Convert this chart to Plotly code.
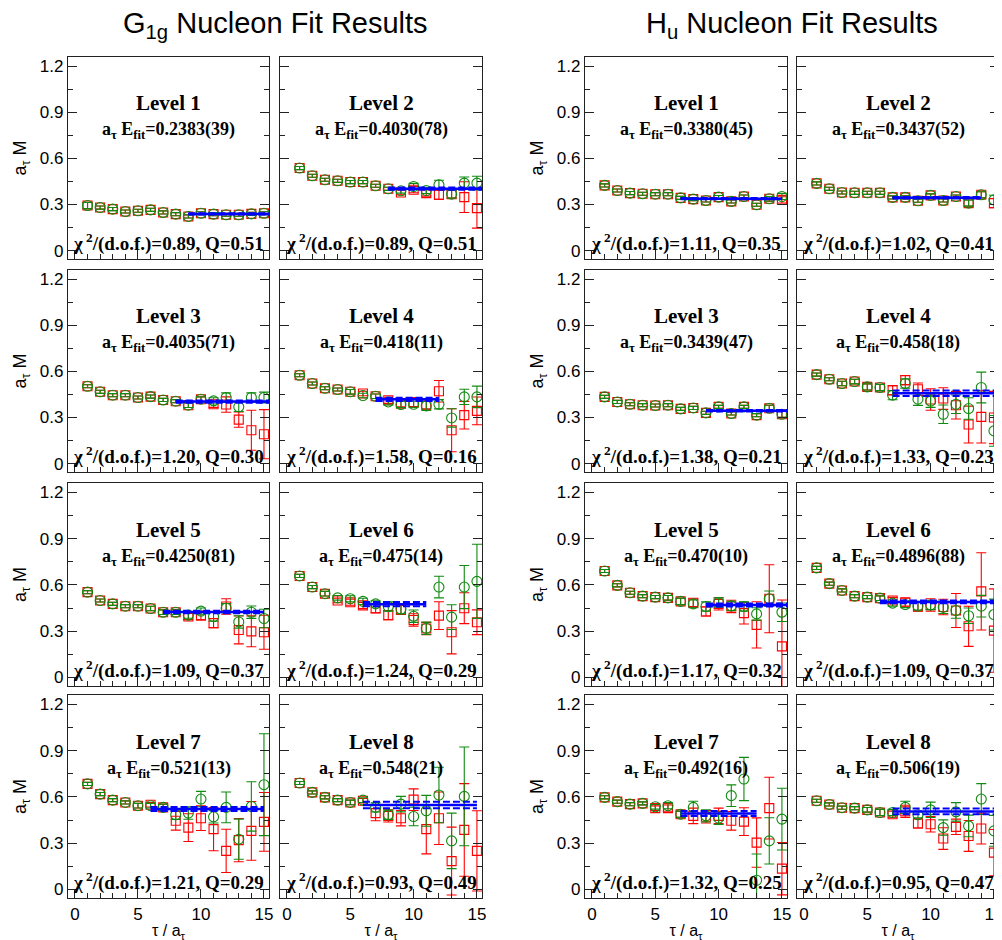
import plotly.graph_objects as go

# ---------------- data ----------------
tau = list(range(1, 16))

group_titles = ["G<sub>1g</sub> Nucleon Fit Results", "H<sub>u</sub> Nucleon Fit Results"]
level_names = [f"Level {i}" for i in range(1, 9)]

# ---- G1g ----
g1g_red_vals = [
    [0.293, 0.280, 0.270, 0.254, 0.259, 0.265, 0.248, 0.237, 0.222, 0.243, 0.237, 0.233, 0.233, 0.239, 0.243],
    [0.537, 0.487, 0.461, 0.454, 0.446, 0.446, 0.422, 0.402, 0.378, 0.396, 0.374, 0.363, 0.367, 0.348, 0.276],
    [0.503, 0.467, 0.445, 0.445, 0.430, 0.436, 0.414, 0.406, 0.380, 0.419, 0.386, 0.384, 0.286, 0.217, 0.191],
    [0.575, 0.521, 0.490, 0.482, 0.467, 0.456, 0.438, 0.412, 0.390, 0.400, 0.384, 0.471, 0.217, 0.315, 0.343],
    [0.553, 0.499, 0.477, 0.462, 0.462, 0.447, 0.423, 0.423, 0.395, 0.401, 0.352, 0.460, 0.308, 0.299, 0.293],
    [0.658, 0.586, 0.543, 0.499, 0.488, 0.467, 0.449, 0.404, 0.438, 0.373, 0.317, 0.401, 0.293, 0.449, 0.358],
    [0.684, 0.618, 0.579, 0.564, 0.543, 0.549, 0.532, 0.445, 0.401, 0.462, 0.391, 0.250, 0.320, 0.380, 0.438],
    [0.690, 0.629, 0.597, 0.579, 0.564, 0.575, 0.495, 0.477, 0.462, 0.582, 0.391, 0.462, 0.184, 0.386, 0.250],
]
g1g_red_errs = [
    [0.02, 0.01, 0.01, 0.01, 0.01, 0.01, 0.01, 0.01, 0.01, 0.01, 0.01, 0.01, 0.01, 0.01, 0.01],
    [0.01, 0.01, 0.01, 0.01, 0.01, 0.01, 0.01, 0.01, 0.015, 0.02, 0.02, 0.03, 0.025, 0.10, 0.13],
    [0.01, 0.01, 0.01, 0.01, 0.01, 0.01, 0.01, 0.01, 0.015, 0.015, 0.02, 0.05, 0.05, 0.13, 0.16],
    [0.01, 0.01, 0.01, 0.01, 0.015, 0.015, 0.015, 0.02, 0.02, 0.03, 0.03, 0.07, 0.14, 0.09, 0.09],
    [0.01, 0.01, 0.01, 0.01, 0.01, 0.015, 0.015, 0.015, 0.02, 0.025, 0.03, 0.05, 0.09, 0.10, 0.11],
    [0.01, 0.01, 0.015, 0.015, 0.02, 0.02, 0.03, 0.03, 0.03, 0.04, 0.04, 0.09, 0.14, 0.10, 0.08],
    [0.01, 0.01, 0.01, 0.01, 0.015, 0.015, 0.02, 0.06, 0.09, 0.08, 0.14, 0.14, 0.14, 0.19, 0.19],
    [0.01, 0.01, 0.01, 0.01, 0.015, 0.015, 0.05, 0.04, 0.05, 0.07, 0.16, 0.17, 0.22, 0.30, 0.26],
]
g1g_green_vals = [
    [0.293, 0.280, 0.270, 0.254, 0.259, 0.265, 0.248, 0.237, 0.222, 0.243, 0.237, 0.233, 0.233, 0.239, 0.243],
    [0.537, 0.487, 0.461, 0.454, 0.446, 0.446, 0.422, 0.402, 0.389, 0.417, 0.391, 0.428, 0.367, 0.439, 0.439],
    [0.503, 0.467, 0.445, 0.445, 0.430, 0.436, 0.414, 0.406, 0.380, 0.419, 0.408, 0.430, 0.369, 0.430, 0.430],
    [0.575, 0.521, 0.490, 0.482, 0.467, 0.443, 0.438, 0.401, 0.384, 0.386, 0.375, 0.386, 0.297, 0.434, 0.434],
    [0.553, 0.499, 0.477, 0.462, 0.462, 0.447, 0.423, 0.423, 0.404, 0.430, 0.395, 0.449, 0.360, 0.423, 0.382],
    [0.658, 0.586, 0.543, 0.516, 0.510, 0.493, 0.477, 0.460, 0.443, 0.397, 0.319, 0.586, 0.391, 0.586, 0.623],
    [0.684, 0.618, 0.579, 0.564, 0.543, 0.543, 0.532, 0.484, 0.495, 0.586, 0.471, 0.532, 0.326, 0.538, 0.679],
    [0.690, 0.629, 0.597, 0.579, 0.564, 0.579, 0.532, 0.484, 0.553, 0.473, 0.510, 0.612, 0.315, 0.603, None],
]
g1g_green_errs = [
    [0.02, 0.01, 0.01, 0.01, 0.01, 0.01, 0.01, 0.01, 0.01, 0.01, 0.01, 0.01, 0.01, 0.01, 0.01],
    [0.01, 0.01, 0.01, 0.01, 0.01, 0.01, 0.01, 0.01, 0.015, 0.02, 0.02, 0.03, 0.025, 0.04, 0.045],
    [0.01, 0.01, 0.01, 0.01, 0.01, 0.01, 0.01, 0.01, 0.015, 0.015, 0.02, 0.03, 0.03, 0.03, 0.035],
    [0.01, 0.01, 0.01, 0.01, 0.015, 0.015, 0.015, 0.02, 0.02, 0.02, 0.03, 0.03, 0.06, 0.05, 0.07],
    [0.01, 0.01, 0.01, 0.01, 0.01, 0.015, 0.015, 0.015, 0.02, 0.02, 0.03, 0.03, 0.04, 0.04, 0.06],
    [0.01, 0.01, 0.015, 0.015, 0.02, 0.02, 0.02, 0.03, 0.03, 0.04, 0.04, 0.07, 0.08, 0.14, 0.24],
    [0.01, 0.01, 0.01, 0.01, 0.015, 0.015, 0.02, 0.03, 0.04, 0.05, 0.04, 0.10, 0.13, 0.16, 0.33],
    [0.01, 0.01, 0.01, 0.01, 0.015, 0.015, 0.03, 0.03, 0.05, 0.06, 0.10, 0.18, 0.18, 0.32, 0.0],
]
g1g_fit_E = [0.2383, 0.4030, 0.4035, 0.418, 0.4250, 0.475, 0.521, 0.548]
g1g_fit_err = [0.0039, 0.0078, 0.0071, 0.011, 0.0081, 0.014, 0.013, 0.021]
g1g_fit_tmin = [9, 8, 8, 7, 7, 6, 6, 6]
g1g_fit_tmax = [16, 16, 16, 12, 15, 11, 15, 15]
g1g_efit_text = ["0.2383(39)", "0.4030(78)", "0.4035(71)", "0.418(11)", "0.4250(81)", "0.475(14)", "0.521(13)", "0.548(21)"]
g1g_chi2 = ["0.89", "0.89", "1.20", "1.58", "1.09", "1.24", "1.21", "0.93"]
g1g_Q = ["0.51", "0.51", "0.30", "0.16", "0.37", "0.29", "0.29", "0.49"]

# ---- Hu ----
hu_red_vals = [
    [0.424, 0.391, 0.374, 0.370, 0.367, 0.367, 0.343, 0.335, 0.326, 0.348, 0.320, 0.352, 0.298, 0.337, 0.330],
    [0.437, 0.402, 0.378, 0.376, 0.376, 0.376, 0.346, 0.346, 0.324, 0.359, 0.326, 0.352, 0.309, 0.363, 0.309],
    [0.434, 0.401, 0.386, 0.380, 0.378, 0.380, 0.356, 0.362, 0.330, 0.369, 0.326, 0.369, 0.315, 0.360, 0.321],
    [0.579, 0.549, 0.521, 0.534, 0.499, 0.495, 0.477, 0.543, 0.484, 0.417, 0.423, 0.380, 0.254, 0.304, 0.300],
    [0.690, 0.597, 0.549, 0.527, 0.521, 0.516, 0.493, 0.484, 0.428, 0.477, 0.460, 0.417, 0.341, 0.510, 0.202],
    [0.710, 0.608, 0.564, 0.527, 0.521, 0.514, 0.499, 0.488, 0.460, 0.470, 0.457, 0.434, 0.332, 0.558, 0.304],
    [0.597, 0.569, 0.553, 0.558, 0.527, 0.527, 0.488, 0.477, 0.471, 0.477, 0.445, 0.440, 0.304, 0.527, 0.135],
    [0.575, 0.551, 0.530, 0.527, 0.516, 0.499, 0.488, 0.506, 0.428, 0.423, 0.330, 0.406, 0.347, 0.395, 0.239],
]
hu_red_errs = [
    [0.01, 0.01, 0.01, 0.01, 0.01, 0.01, 0.01, 0.01, 0.01, 0.01, 0.01, 0.01, 0.01, 0.015, 0.02],
    [0.01, 0.01, 0.01, 0.01, 0.01, 0.01, 0.01, 0.01, 0.01, 0.01, 0.01, 0.01, 0.02, 0.02, 0.03],
    [0.01, 0.01, 0.01, 0.01, 0.01, 0.01, 0.01, 0.01, 0.01, 0.01, 0.01, 0.01, 0.01, 0.02, 0.02],
    [0.01, 0.01, 0.015, 0.015, 0.02, 0.02, 0.03, 0.03, 0.04, 0.07, 0.07, 0.09, 0.12, 0.17, 0.17],
    [0.01, 0.01, 0.01, 0.01, 0.01, 0.015, 0.02, 0.025, 0.03, 0.04, 0.04, 0.07, 0.15, 0.22, 0.30],
    [0.01, 0.01, 0.01, 0.01, 0.01, 0.015, 0.02, 0.025, 0.03, 0.04, 0.05, 0.11, 0.13, 0.25, 0.27],
    [0.01, 0.01, 0.01, 0.01, 0.015, 0.02, 0.02, 0.05, 0.04, 0.05, 0.06, 0.09, 0.16, 0.20, 0.17],
    [0.01, 0.01, 0.01, 0.01, 0.015, 0.02, 0.02, 0.04, 0.03, 0.05, 0.07, 0.05, 0.10, 0.10, 0.15],
]
hu_green_vals = [
    [0.424, 0.391, 0.374, 0.370, 0.367, 0.367, 0.343, 0.335, 0.326, 0.348, 0.320, 0.352, 0.298, 0.337, 0.352],
    [0.437, 0.402, 0.378, 0.376, 0.376, 0.376, 0.346, 0.346, 0.324, 0.359, 0.326, 0.352, 0.309, 0.363, 0.330],
    [0.434, 0.401, 0.386, 0.380, 0.378, 0.380, 0.356, 0.362, 0.330, 0.369, 0.326, 0.369, 0.315, 0.360, 0.321],
    [0.579, 0.549, 0.521, 0.534, 0.499, 0.495, 0.445, 0.521, 0.419, 0.406, 0.321, 0.386, 0.358, 0.495, 0.213],
    [0.690, 0.597, 0.549, 0.527, 0.521, 0.516, 0.493, 0.477, 0.460, 0.486, 0.464, 0.460, 0.412, 0.510, 0.423],
    [0.710, 0.608, 0.564, 0.527, 0.521, 0.514, 0.482, 0.473, 0.462, 0.470, 0.455, 0.434, 0.400, 0.462, 0.408],
    [0.597, 0.569, 0.553, 0.558, 0.536, 0.543, 0.488, 0.532, 0.477, 0.462, 0.608, 0.716, 0.060, 0.315, 0.456],
    [0.575, 0.551, 0.530, 0.527, 0.516, 0.499, 0.499, 0.532, 0.484, 0.516, 0.401, 0.503, 0.412, 0.586, 0.380],
]
hu_green_errs = [
    [0.01, 0.01, 0.01, 0.01, 0.01, 0.01, 0.01, 0.01, 0.01, 0.01, 0.01, 0.01, 0.01, 0.015, 0.02],
    [0.01, 0.01, 0.01, 0.01, 0.01, 0.01, 0.01, 0.01, 0.01, 0.01, 0.01, 0.01, 0.02, 0.02, 0.03],
    [0.01, 0.01, 0.01, 0.01, 0.01, 0.01, 0.01, 0.01, 0.01, 0.01, 0.01, 0.01, 0.01, 0.02, 0.02],
    [0.01, 0.01, 0.015, 0.015, 0.02, 0.02, 0.03, 0.03, 0.04, 0.04, 0.06, 0.06, 0.07, 0.10, 0.10],
    [0.01, 0.01, 0.01, 0.01, 0.01, 0.015, 0.02, 0.025, 0.03, 0.03, 0.03, 0.03, 0.04, 0.05, 0.06],
    [0.01, 0.01, 0.01, 0.01, 0.01, 0.015, 0.02, 0.02, 0.025, 0.03, 0.04, 0.05, 0.05, 0.07, 0.10],
    [0.01, 0.01, 0.01, 0.01, 0.015, 0.02, 0.02, 0.04, 0.04, 0.04, 0.07, 0.14, 0.17, 0.15, 0.20],
    [0.01, 0.01, 0.01, 0.01, 0.015, 0.02, 0.02, 0.04, 0.02, 0.05, 0.05, 0.06, 0.07, 0.10, 0.10],
]
hu_fit_E = [0.3380, 0.3437, 0.3439, 0.458, 0.470, 0.4896, 0.492, 0.506]
hu_fit_err = [0.0045, 0.0052, 0.0047, 0.018, 0.010, 0.0088, 0.016, 0.019]
hu_fit_tmin = [7, 7, 9, 7, 9, 6, 7, 7]
hu_fit_tmax = [15, 14, 16, 16, 16, 15, 13, 16]
hu_efit_text = ["0.3380(45)", "0.3437(52)", "0.3439(47)", "0.458(18)", "0.470(10)", "0.4896(88)", "0.492(16)", "0.506(19)"]
hu_chi2 = ["1.11", "1.02", "1.38", "1.33", "1.17", "1.09", "1.32", "0.95"]
hu_Q = ["0.35", "0.41", "0.21", "0.23", "0.32", "0.37", "0.25", "0.47"]

ytick_vals = [0, 0.3, 0.6, 0.9, 1.2]
ytick_text = ["0", "0.3", "0.6", "0.9", "1.2"]
xtick_vals = [0, 5, 10, 15]
xtick_text = ["0", "5", "10", "15"]

# ---------------- style / layout constants ----------------
W, H = 1002, 940
PAGE_OFF = 8  # the page body margin shifts the figure by this many pixels
COL_PX = [(68, 269), (280, 482), (585, 787), (797, 999)]
ROW_PX = [(57, 259), (270, 472), (483, 686), (695, 898)]
X_RANGE = [-0.55, 15.4]
Y_RANGE = [-0.055, 1.26]
RED = "#ff0000"
GREEN = "#108a10"
BLUE = "#0000ff"
AXC = "#222222"
SANS = "Liberation Sans, Arial, sans-serif"
SERIF = "Liberation Serif, Times New Roman, serif"


def px_x(p):
    return (p - PAGE_OFF) / W


def px_y(p):
    return 1 - (p - PAGE_OFF) / H


groups = [
    dict(red=g1g_red_vals, rerr=g1g_red_errs, green=g1g_green_vals, gerr=g1g_green_errs,
         E=g1g_fit_E, Eerr=g1g_fit_err, tmin=g1g_fit_tmin, tmax=g1g_fit_tmax,
         etext=g1g_efit_text, chi2=g1g_chi2, Q=g1g_Q),
    dict(red=hu_red_vals, rerr=hu_red_errs, green=hu_green_vals, gerr=hu_green_errs,
         E=hu_fit_E, Eerr=hu_fit_err, tmin=hu_fit_tmin, tmax=hu_fit_tmax,
         etext=hu_efit_text, chi2=hu_chi2, Q=hu_Q),
]

fig = go.Figure()
layout_upd = {}
annotations = []

idx = 0
for g, grp in enumerate(groups):
    for k in range(8):
        idx += 1
        r, c = k // 2, k % 2
        col = g * 2 + c
        xs = "x" if idx == 1 else f"x{idx}"
        ys = "y" if idx == 1 else f"y{idx}"
        xkey = "xaxis" if idx == 1 else f"xaxis{idx}"
        ykey = "yaxis" if idx == 1 else f"yaxis{idx}"
        x0, x1 = COL_PX[col]
        y0, y1 = ROW_PX[r]

        xaxis = dict(
            domain=[px_x(x0), px_x(x1)], range=X_RANGE, anchor=ys,
            showline=True, mirror=True, linecolor=AXC, linewidth=1.2,
            ticks="inside", ticklen=9, tickwidth=1, tickcolor=AXC,
            tickmode="array", tickvals=xtick_vals, ticktext=xtick_text,
            showticklabels=(r == 3), ticklabeloverflow="allow",
            tickfont=dict(family=SANS, size=17, color="black"),
            minor=dict(ticks="inside", ticklen=5, tickwidth=1, tickcolor=AXC,
                       tickmode="linear", tick0=0, dtick=1),
            showgrid=False, zeroline=False, automargin=False, fixedrange=True,
        )
        if r == 3:
            xaxis["title"] = dict(text="τ / a<sub>τ</sub>",
                                  font=dict(family=SANS, size=16, color="black"), standoff=2)
        yaxis = dict(
            domain=[px_y(y1), px_y(y0)], range=Y_RANGE, anchor=xs,
            showline=True, mirror="allticks", linecolor=AXC, linewidth=1.2,
            ticks="inside", ticklen=9, tickwidth=1, tickcolor=AXC,
            tickmode="array", tickvals=ytick_vals, ticktext=ytick_text,
            showticklabels=(c == 0),
            tickfont=dict(family=SANS, size=17, color="black"),
            minor=dict(ticks="inside", ticklen=5, tickwidth=1, tickcolor=AXC,
                       tickmode="linear", tick0=0, dtick=0.15),
            showgrid=False, zeroline=False, automargin=False, fixedrange=True,
        )
        if c == 0:
            yaxis["title"] = dict(text="a<sub>τ</sub> M",
                                  font=dict(family=SANS, size=18, color="black"), standoff=8)
        layout_upd[xkey] = xaxis
        layout_upd[ykey] = yaxis

        # red squares
        fig.add_trace(go.Scatter(
            x=tau, y=grp["red"][k], mode="markers", xaxis=xs, yaxis=ys,
            marker=dict(symbol="square-open", size=9, color=RED, line=dict(width=1.1, color=RED)),
            error_y=dict(type="data", array=grp["rerr"][k], color=RED, thickness=1.1, width=5),
            showlegend=False, hoverinfo="skip", cliponaxis=True,
        ))
        # green circles
        fig.add_trace(go.Scatter(
            x=tau, y=grp["green"][k], mode="markers", xaxis=xs, yaxis=ys,
            marker=dict(symbol="circle-open", size=10, color=GREEN, line=dict(width=1.1, color=GREEN)),
            error_y=dict(type="data", array=grp["gerr"][k], color=GREEN, thickness=1.1, width=5),
            showlegend=False, hoverinfo="skip", cliponaxis=True,
        ))
        # fit band and central value
        E, dE = grp["E"][k], grp["Eerr"][k]
        tr = [grp["tmin"][k], grp["tmax"][k]]
        for val in (E + dE, E - dE):
            fig.add_trace(go.Scatter(
                x=tr, y=[val, val], mode="lines", xaxis=xs, yaxis=ys,
                line=dict(color=BLUE, width=2, dash="7px,3px"),
                showlegend=False, hoverinfo="skip",
            ))
        fig.add_trace(go.Scatter(
            x=tr, y=[E, E], mode="lines", xaxis=xs, yaxis=ys,
            line=dict(color=BLUE, width=2.5),
            showlegend=False, hoverinfo="skip",
        ))

        # panel texts
        annotations.append(dict(
            text=f"<b>{level_names[k]}</b>", xref=f"{xs} domain", yref=f"{ys} domain",
            x=0.5, y=0.77, xanchor="center", yanchor="middle", showarrow=False,
            font=dict(family=SERIF, size=21, color="black"),
        ))
        annotations.append(dict(
            text=f"<b>a<sub>τ</sub> E<sub>fit</sub>={grp['etext'][k]}</b>",
            xref=f"{xs} domain", yref=f"{ys} domain",
            x=0.5, y=0.635, xanchor="center", yanchor="middle", showarrow=False,
            font=dict(family=SERIF, size=18, color="black"),
        ))
        annotations.append(dict(
            text=f"<b>χ<sup> 2</sup>/(d.o.f.)={grp['chi2'][k]}, Q={grp['Q'][k]}</b>",
            xref=f"{xs} domain", yref=f"{ys} domain",
            x=0.5, y=0.08, xanchor="center", yanchor="middle", showarrow=False,
            font=dict(family=SERIF, size=19, color="black"),
        ))

# group titles
for g, title in enumerate(group_titles):
    xl = COL_PX[2 * g][0]
    xr = COL_PX[2 * g + 1][1]
    annotations.append(dict(
        text=title, xref="paper", yref="paper",
        x=px_x((xl + xr) / 2), y=px_y(25), xanchor="center", yanchor="middle",
        showarrow=False, font=dict(family=SANS, size=29, color="black"),
    ))

fig.update_layout(
    width=W, height=H, autosize=False,
    margin=dict(l=0, r=0, t=0, b=0),
    paper_bgcolor="white", plot_bgcolor="white",
    showlegend=False,
    annotations=annotations,
    **layout_upd,
)

fig.write_html("out.html")
